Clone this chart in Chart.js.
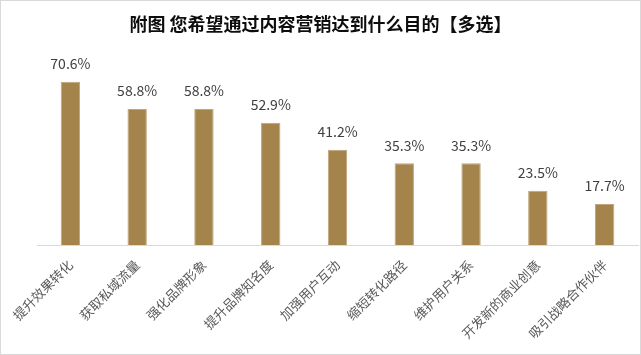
<!DOCTYPE html>
<html>
<head>
<meta charset="utf-8">
<script src="https://cdn.jsdelivr.net/npm/chart.js@4/dist/chart.umd.min.js"></script>
<style>
  html, body { margin: 0; padding: 0; background: #fff; }
  #wrap { width: 641px; height: 355px; box-sizing: border-box; border: 1px solid #d9d9d9; }
</style>
</head>
<body>
<div id="wrap"><canvas id="myChart" width="639" height="353"></canvas></div>
<script>
const CATEGORIES = [
  '提升效果转化',
  '获取私域流量',
  '强化品牌形象',
  '提升品牌知名度',
  '加强用户互动',
  '缩短转化路径',
  '维护用户关系',
  '开发新的商业创意',
  '吸引战略合作伙伴'
];
const VALUES = [70.6, 58.8, 58.8, 52.9, 41.2, 35.3, 35.3, 23.5, 17.7];
const TITLE = '附图 您希望通过内容营销达到什么目的【多选】';

const FONT = "'Noto Sans CJK SC', 'Noto Sans', sans-serif";

// draw the value above each bar
const valueLabels = {
  id: 'valueLabels',
  afterDatasetsDraw(chart) {
    const ctx = chart.ctx;
    const meta = chart.getDatasetMeta(0);
    ctx.save();
    ctx.font = '14px ' + FONT;
    ctx.fillStyle = '#404040';
    ctx.textAlign = 'center';
    ctx.textBaseline = 'middle';
    meta.data.forEach((bar, i) => {
      ctx.fillText(VALUES[i].toFixed(1) + '%', bar.x, bar.y - 18);
    });
    ctx.restore();
  }
};

// title centred on the whole canvas, not on the padded area
const centerTitle = {
  id: 'centerTitle',
  afterDraw(chart) {
    const ctx = chart.ctx;
    ctx.save();
    ctx.font = 'bold 18px ' + FONT;
    ctx.fillStyle = '#0d0d0d';
    ctx.textAlign = 'center';
    ctx.textBaseline = 'middle';
    ctx.fillText(TITLE, chart.width / 2, 23);
    ctx.restore();
  }
};

var ctx = document.getElementById('myChart');
var chart = new Chart(ctx, {
  type: 'bar',
  data: {
    labels: CATEGORIES,
    datasets: [{
      data: VALUES,
      backgroundColor: '#a5844c',
      borderColor: '#bfa57a',
      borderWidth: 1,
      barPercentage: 0.29,
      categoryPercentage: 1
    }]
  },
  options: {
    responsive: false,
    animation: false,
    layout: { padding: { left: 36, right: 2, top: 59, bottom: 0 } },
    plugins: {
      legend: { display: false },
      tooltip: { enabled: false },
      title: { display: false }
    },
    scales: {
      y: {
        display: false,
        min: 0,
        max: 80
      },
      x: {
        grid: { display: false, drawTicks: false },
        border: { display: true, color: '#d9d9d9', width: 1 },
        ticks: {
          color: '#595959',
          font: { family: FONT, size: 13 },
          minRotation: 45,
          maxRotation: 45,
          autoSkip: false,
          padding: 12
        },
        afterFit(scale) {
          scale.height = 109;
          scale.paddingLeft = 0;
          scale.paddingRight = 0;
        }
      }
    }
  },
  plugins: [valueLabels, centerTitle]
});
</script>
</body>
</html>
